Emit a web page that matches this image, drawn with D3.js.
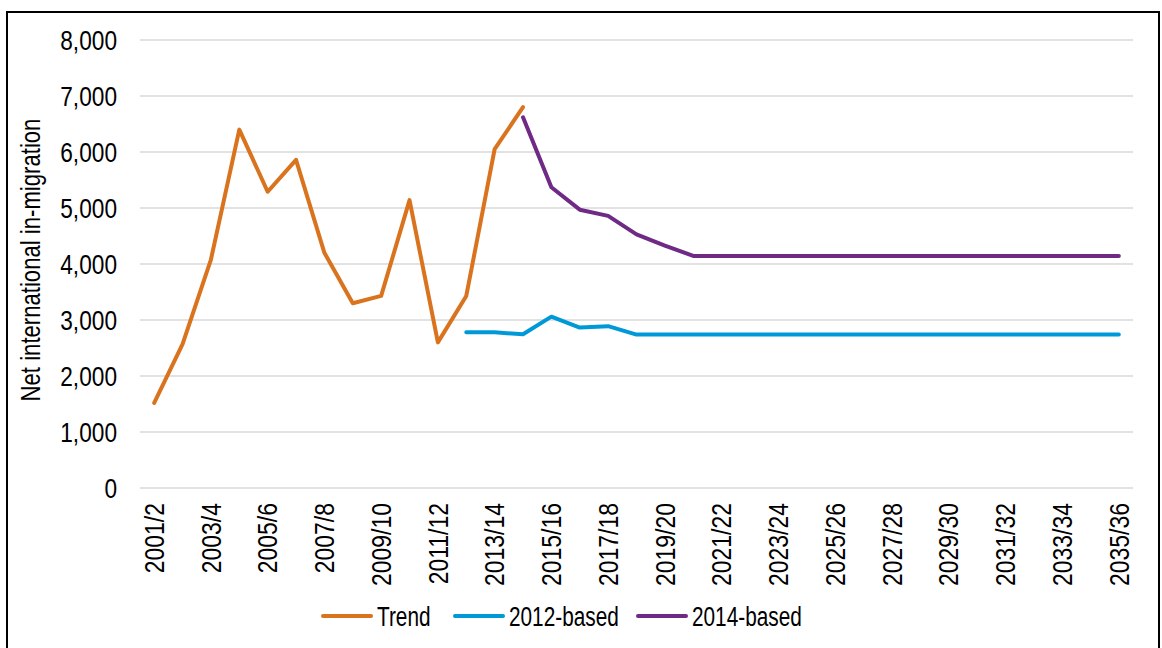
<html>
<head>
<meta charset="utf-8">
<title>Net international in-migration</title>
<script src="https://d3js.org/d3.v7.min.js"></script>
<style type="text/css">
body{ margin:0; background:#fff; }
text{ font-family:"Liberation Sans",Arial,sans-serif; fill:#000; font-size:27px; }
.grid line{ stroke:#d9d9d9; stroke-width:1.5; }
.series{ fill:none; stroke-width:4; stroke-linejoin:round; stroke-linecap:round; }
</style>
</head>
<body>
<script>
var years = ['2001/2', '2002/3', '2003/4', '2004/5', '2005/6', '2006/7', '2007/8', '2008/9',
	'2009/10', '2010/11', '2011/12', '2012/13', '2013/14', '2014/15', '2015/16', '2016/17',
	'2017/18', '2018/19', '2019/20', '2020/21', '2021/22', '2022/23', '2023/24', '2024/25',
	'2025/26', '2026/27', '2027/28', '2028/29', '2029/30', '2030/31', '2031/32', '2032/33',
	'2033/34', '2034/35', '2035/36'];

var trend = [1520, 2570, 4080, 6400, 5290, 5860, 4200, 3300, 3430, 5140, 2600, 3430, 6050, 6800];
var based2012 = [2780, 2780, 2745, 3060, 2865, 2890, 2740, 2740, 2740, 2740, 2740, 2740, 2740, 2740,
	2740, 2740, 2740, 2740, 2740, 2740, 2740, 2740, 2740, 2740];
var based2014 = [6620, 5370, 4970, 4860, 4530, 4330, 4145, 4145, 4145, 4145, 4145, 4145, 4145, 4145,
	4145, 4145, 4145, 4145, 4145, 4145, 4145, 4145];
var yTicks = [0, 1000, 2000, 3000, 4000, 5000, 6000, 7000, 8000];

var series = [
	{name:'Trend', start:0, values:trend, color:'#D9731E'},
	{name:'2012-based', start:11, values:based2012, color:'#0099D8'},
	{name:'2014-based', start:13, values:based2014, color:'#6E2A84'}
];

var W = 1162, H = 648;
var svg = d3.select('body').append('svg').attr('width', W).attr('height', H);

svg.append('rect')
	.attr('x', 7).attr('y', 12).attr('width', 1152).attr('height', 660)
	.attr('fill', 'none').attr('stroke', '#000').attr('stroke-width', 2);

var x = d3.scaleBand().domain(years).range([140, 1133]),
	yScale = d3.scaleLinear().domain([0, 8000]).range([488, 40]);

svg.append('g').attr('class', 'grid')
	.selectAll('line').data(yTicks).enter().append('line')
	.attr('x1', 140).attr('x2', 1133)
	.attr('y1', function(d){ return yScale(d); })
	.attr('y2', function(d){ return yScale(d); });

// no narrow font installed, so squeeze the text horizontally
svg.append('g').selectAll('text').data(yTicks).enter().append('text')
	.attr('transform', function(d){ return 'translate(117,' + yScale(d) + ') scale(0.84,1)'; })
	.attr('dy', '0.36em').attr('text-anchor', 'end')
	.text(d3.format(','));

svg.append('g').selectAll('text')
	.data(years.filter(function(d, i){ return i % 2 === 0; }))
	.enter().append('text')
	.attr('transform', function(d){
		return 'translate(' + (x(d) + x.bandwidth() / 2) + ',503) rotate(-90) scale(0.85,1)';
	})
	.attr('dy', '0.36em').attr('text-anchor', 'end')
	.text(function(d){ return d; });

svg.append('text')
	.attr('transform', 'translate(30,260) rotate(-90) scale(0.82,1)')
	.attr('dy', '0.36em').attr('text-anchor', 'middle')
	.text('Net international in-migration');

var line = d3.line()
	.x(function(d){ return x(d.year) + x.bandwidth() / 2; })
	.y(function(d){ return yScale(d.value); });

series.forEach(function(s){
	var pts = s.values.map(function(v, i){ return {year:years[s.start + i], value:v}; });
	svg.append('path').attr('class', 'series')
		.attr('stroke', s.color)
		.attr('d', line(pts));
});

var legendX = [323, 455, 638];
var legend = svg.append('g').selectAll('g').data(series).enter().append('g')
	.attr('transform', function(d, i){ return 'translate(' + legendX[i] + ',616)'; });
legend.append('line')
	.attr('x1', 0).attr('x2', 48)
	.attr('stroke', function(d){ return d.color; })
	.attr('stroke-width', 4).attr('stroke-linecap', 'round');
legend.append('text')
	.attr('transform', 'translate(54,0) scale(0.77,1)')
	.attr('dy', '0.36em')
	.text(function(d){ return d.name; });
</script>
</body>
</html>
